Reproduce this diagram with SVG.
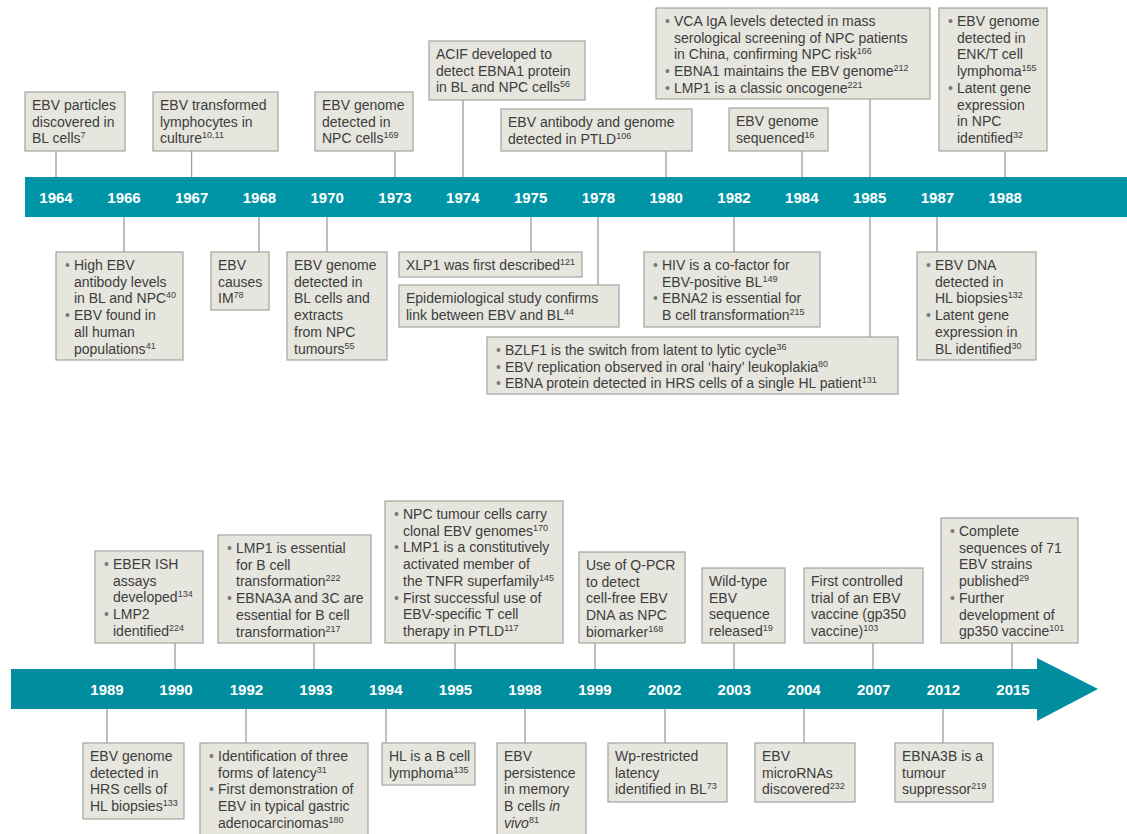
<svg xmlns="http://www.w3.org/2000/svg" width="1127" height="834" viewBox="0 0 1127 834">
<style>
.box{fill:#e6e5de;stroke:#a3a39f;stroke-width:1.2}
.t{font-family:"Liberation Sans",Arial,sans-serif;font-size:14px;fill:#3d3d3d}
.s{font-size:9px}
.b{fill:#7a7a7a}
.i{font-style:italic}
.yr{font-family:"Liberation Sans",Arial,sans-serif;font-weight:bold;font-size:15px;fill:#fff;text-anchor:middle}
.c line{stroke:#9b9b9b;stroke-width:1.3}
</style>
<rect width="1127" height="834" fill="#fff"/>
<g id="band-top">
<rect x="25" y="177" width="1102" height="40" fill="#0095a6"/>
<text class="yr" x="56" y="202.5">1964</text>
<text class="yr" x="124" y="202.5">1966</text>
<text class="yr" x="191.6" y="202.5">1967</text>
<text class="yr" x="259.4" y="202.5">1968</text>
<text class="yr" x="327.2" y="202.5">1970</text>
<text class="yr" x="395" y="202.5">1973</text>
<text class="yr" x="462.8" y="202.5">1974</text>
<text class="yr" x="530.6" y="202.5">1975</text>
<text class="yr" x="598.4" y="202.5">1978</text>
<text class="yr" x="666.2" y="202.5">1980</text>
<text class="yr" x="734" y="202.5">1982</text>
<text class="yr" x="801.8" y="202.5">1984</text>
<text class="yr" x="869.6" y="202.5">1985</text>
<text class="yr" x="937.4" y="202.5">1987</text>
<text class="yr" x="1005.2" y="202.5">1988</text>
</g>
<g id="band-bottom">
<path d="M11,669 H1037 V658 L1098,689 L1037,721 V709 H11 Z" fill="#008e9e"/>
<text class="yr" x="107" y="695">1989</text>
<text class="yr" x="176" y="695">1990</text>
<text class="yr" x="246.4" y="695">1992</text>
<text class="yr" x="316" y="695">1993</text>
<text class="yr" x="385.8" y="695">1994</text>
<text class="yr" x="455.5" y="695">1995</text>
<text class="yr" x="525" y="695">1998</text>
<text class="yr" x="594.9" y="695">1999</text>
<text class="yr" x="664.6" y="695">2002</text>
<text class="yr" x="734.3" y="695">2003</text>
<text class="yr" x="804" y="695">2004</text>
<text class="yr" x="873.7" y="695">2007</text>
<text class="yr" x="943.4" y="695">2012</text>
<text class="yr" x="1013" y="695">2015</text>
</g>
<g id="connectors" class="c">
<line x1="56" y1="151" x2="56" y2="177"/>
<line x1="191.6" y1="151" x2="191.6" y2="177"/>
<line x1="395" y1="151" x2="395" y2="177"/>
<line x1="463" y1="100" x2="463" y2="177"/>
<line x1="666" y1="151" x2="666" y2="177"/>
<line x1="870" y1="99" x2="870" y2="177"/>
<line x1="802" y1="151" x2="802" y2="177"/>
<line x1="1005" y1="151" x2="1005" y2="177"/>
<line x1="124" y1="217" x2="124" y2="252"/>
<line x1="259" y1="217" x2="259" y2="252"/>
<line x1="327" y1="217" x2="327" y2="252"/>
<line x1="531" y1="217" x2="531" y2="252"/>
<line x1="598" y1="217" x2="598" y2="285"/>
<line x1="734" y1="217" x2="734" y2="252"/>
<line x1="870" y1="217" x2="870" y2="337"/>
<line x1="937" y1="217" x2="937" y2="252"/>
<line x1="175" y1="643" x2="175" y2="669"/>
<line x1="314" y1="643" x2="314" y2="669"/>
<line x1="455" y1="643" x2="455" y2="669"/>
<line x1="595" y1="643" x2="595" y2="669"/>
<line x1="734" y1="643" x2="734" y2="669"/>
<line x1="873" y1="643" x2="873" y2="669"/>
<line x1="1012" y1="643" x2="1012" y2="669"/>
<line x1="107" y1="709" x2="107" y2="743"/>
<line x1="246" y1="709" x2="246" y2="743"/>
<line x1="386" y1="709" x2="386" y2="743"/>
<line x1="525" y1="709" x2="525" y2="743"/>
<line x1="665" y1="709" x2="665" y2="743"/>
<line x1="804" y1="709" x2="804" y2="743"/>
<line x1="943" y1="709" x2="943" y2="743"/>
</g>
<g id="n1964"><rect class="box" x="25" y="92" width="100" height="59"/>
<text class="t"><tspan x="32" y="110">EBV particles</tspan><tspan x="32" y="126.7">discovered in</tspan><tspan x="32" y="143.4">BL cells</tspan><tspan class="s" dy="-5">7</tspan></text></g>
<g id="n1967"><rect class="box" x="153" y="92" width="125" height="59"/>
<text class="t"><tspan x="160" y="110">EBV transformed</tspan><tspan x="160" y="126.7">lymphocytes in</tspan><tspan x="160" y="143.4">culture</tspan><tspan class="s" dy="-5">10,11</tspan></text></g>
<g id="n1973"><rect class="box" x="315" y="92" width="98" height="59"/>
<text class="t"><tspan x="322" y="110">EBV genome</tspan><tspan x="322" y="126.7">detected in</tspan><tspan x="322" y="143.4">NPC cells</tspan><tspan class="s" dy="-5">169</tspan></text></g>
<g id="n1974"><rect class="box" x="429" y="41" width="156" height="59"/>
<text class="t"><tspan x="436" y="59">ACIF developed to</tspan><tspan x="436" y="75.7">detect EBNA1 protein</tspan><tspan x="436" y="92.4">in BL and NPC cells</tspan><tspan class="s" dy="-5">56</tspan></text></g>
<g id="n1980"><rect class="box" x="501" y="109" width="191" height="42"/>
<text class="t"><tspan x="508" y="127">EBV antibody and genome</tspan><tspan x="508" y="143.7">detected in PTLD</tspan><tspan class="s" dy="-5">106</tspan></text></g>
<g id="n1985a"><rect class="box" x="656" y="8" width="274" height="91"/>
<text class="t"><tspan class="b" x="665" y="26">•</tspan><tspan x="674" y="26">VCA IgA levels detected in mass</tspan><tspan x="674" y="42.7">serological screening of NPC patients</tspan><tspan x="674" y="59.4">in China, confirming NPC risk</tspan><tspan class="s" dy="-5">166</tspan><tspan class="b" x="665" y="76.1">•</tspan><tspan x="674" y="76.1">EBNA1 maintains the EBV genome</tspan><tspan class="s" dy="-5">212</tspan><tspan class="b" x="665" y="92.8">•</tspan><tspan x="674" y="92.8">LMP1 is a classic oncogene</tspan><tspan class="s" dy="-5">221</tspan></text></g>
<g id="n1984"><rect class="box" x="729" y="108" width="99" height="43"/>
<text class="t"><tspan x="736" y="126">EBV genome</tspan><tspan x="736" y="142.7">sequenced</tspan><tspan class="s" dy="-5">16</tspan></text></g>
<g id="n1988"><rect class="box" x="939" y="8" width="108" height="143"/>
<text class="t"><tspan class="b" x="948" y="26">•</tspan><tspan x="957" y="26">EBV genome</tspan><tspan x="957" y="42.7">detected in</tspan><tspan x="957" y="59.4">ENK/T cell</tspan><tspan x="957" y="76.1">lymphoma</tspan><tspan class="s" dy="-5">155</tspan><tspan class="b" x="948" y="92.8">•</tspan><tspan x="957" y="92.8">Latent gene</tspan><tspan x="957" y="109.5">expression</tspan><tspan x="957" y="126.2">in NPC</tspan><tspan x="957" y="142.9">identified</tspan><tspan class="s" dy="-5">32</tspan></text></g>
<g id="n1966"><rect class="box" x="56" y="252" width="127" height="108"/>
<text class="t"><tspan class="b" x="65" y="270">•</tspan><tspan x="74" y="270">High EBV</tspan><tspan x="74" y="286.7">antibody levels</tspan><tspan x="74" y="303.4">in BL and NPC</tspan><tspan class="s" dy="-5">40</tspan><tspan class="b" x="65" y="320.1">•</tspan><tspan x="74" y="320.1">EBV found in</tspan><tspan x="74" y="336.8">all human</tspan><tspan x="74" y="353.5">populations</tspan><tspan class="s" dy="-5">41</tspan></text></g>
<g id="n1968"><rect class="box" x="211" y="252" width="58" height="58"/>
<text class="t"><tspan x="218" y="270">EBV</tspan><tspan x="218" y="286.7">causes</tspan><tspan x="218" y="303.4">IM</tspan><tspan class="s" dy="-5">78</tspan></text></g>
<g id="n1970"><rect class="box" x="287" y="252" width="100" height="108"/>
<text class="t"><tspan x="294" y="270">EBV genome</tspan><tspan x="294" y="286.7">detected in</tspan><tspan x="294" y="303.4">BL cells and</tspan><tspan x="294" y="320.1">extracts</tspan><tspan x="294" y="336.8">from NPC</tspan><tspan x="294" y="353.5">tumours</tspan><tspan class="s" dy="-5">55</tspan></text></g>
<g id="n1975"><rect class="box" x="399" y="252" width="183" height="25"/>
<text class="t"><tspan x="406" y="269.5">XLP1 was first described</tspan><tspan class="s" dy="-5">121</tspan></text></g>
<g id="n1978"><rect class="box" x="399" y="285" width="220" height="42"/>
<text class="t"><tspan x="406" y="303">Epidemiological study confirms</tspan><tspan x="406" y="319.7">link between EBV and BL</tspan><tspan class="s" dy="-5">44</tspan></text></g>
<g id="n1982"><rect class="box" x="644" y="252" width="176" height="75"/>
<text class="t"><tspan class="b" x="653" y="270">•</tspan><tspan x="662" y="270">HIV is a co-factor for</tspan><tspan x="662" y="286.7">EBV-positive BL</tspan><tspan class="s" dy="-5">149</tspan><tspan class="b" x="653" y="303.4">•</tspan><tspan x="662" y="303.4">EBNA2 is essential for</tspan><tspan x="662" y="320.1">B cell transformation</tspan><tspan class="s" dy="-5">215</tspan></text></g>
<g id="n1985b"><rect class="box" x="487" y="337" width="411" height="57"/>
<text class="t"><tspan class="b" x="496" y="355">•</tspan><tspan x="505" y="355">BZLF1 is the switch from latent to lytic cycle</tspan><tspan class="s" dy="-5">36</tspan><tspan class="b" x="496" y="371.7">•</tspan><tspan x="505" y="371.7">EBV replication observed in oral ‘hairy’ leukoplakia</tspan><tspan class="s" dy="-5">80</tspan><tspan class="b" x="496" y="388.4">•</tspan><tspan x="505" y="388.4">EBNA protein detected in HRS cells of a single HL patient</tspan><tspan class="s" dy="-5">131</tspan></text></g>
<g id="n1987"><rect class="box" x="917" y="252" width="119" height="108"/>
<text class="t"><tspan class="b" x="926" y="270">•</tspan><tspan x="935" y="270">EBV DNA</tspan><tspan x="935" y="286.7">detected in</tspan><tspan x="935" y="303.4">HL biopsies</tspan><tspan class="s" dy="-5">132</tspan><tspan class="b" x="926" y="320.1">•</tspan><tspan x="935" y="320.1">Latent gene</tspan><tspan x="935" y="336.8">expression in</tspan><tspan x="935" y="353.5">BL identified</tspan><tspan class="s" dy="-5">30</tspan></text></g>
<g id="n1990"><rect class="box" x="95" y="551" width="108" height="92"/>
<text class="t"><tspan class="b" x="104" y="569">•</tspan><tspan x="113" y="569">EBER ISH</tspan><tspan x="113" y="585.7">assays</tspan><tspan x="113" y="602.4">developed</tspan><tspan class="s" dy="-5">134</tspan><tspan class="b" x="104" y="619.1">•</tspan><tspan x="113" y="619.1">LMP2</tspan><tspan x="113" y="635.8">identified</tspan><tspan class="s" dy="-5">224</tspan></text></g>
<g id="n1993"><rect class="box" x="218" y="535" width="153" height="108"/>
<text class="t"><tspan class="b" x="227" y="553">•</tspan><tspan x="236" y="553">LMP1 is essential</tspan><tspan x="236" y="569.7">for B cell</tspan><tspan x="236" y="586.4">transformation</tspan><tspan class="s" dy="-5">222</tspan><tspan class="b" x="227" y="603.1">•</tspan><tspan x="236" y="603.1">EBNA3A and 3C are</tspan><tspan x="236" y="619.8">essential for B cell</tspan><tspan x="236" y="636.5">transformation</tspan><tspan class="s" dy="-5">217</tspan></text></g>
<g id="n1995"><rect class="box" x="385" y="501" width="178" height="142"/>
<text class="t"><tspan class="b" x="394" y="519">•</tspan><tspan x="403" y="519">NPC tumour cells carry</tspan><tspan x="403" y="535.7">clonal EBV genomes</tspan><tspan class="s" dy="-5">170</tspan><tspan class="b" x="394" y="552.4">•</tspan><tspan x="403" y="552.4">LMP1 is a constitutively</tspan><tspan x="403" y="569.1">activated member of</tspan><tspan x="403" y="585.8">the TNFR superfamily</tspan><tspan class="s" dy="-5">145</tspan><tspan class="b" x="394" y="602.5">•</tspan><tspan x="403" y="602.5">First successful use of</tspan><tspan x="403" y="619.2">EBV-specific T cell</tspan><tspan x="403" y="635.9">therapy in PTLD</tspan><tspan class="s" dy="-5">117</tspan></text></g>
<g id="n1999"><rect class="box" x="579" y="552" width="106" height="91"/>
<text class="t"><tspan x="586" y="570">Use of Q-PCR</tspan><tspan x="586" y="586.7">to detect</tspan><tspan x="586" y="603.4">cell-free EBV</tspan><tspan x="586" y="620.1">DNA as NPC</tspan><tspan x="586" y="636.8">biomarker</tspan><tspan class="s" dy="-5">168</tspan></text></g>
<g id="n2003"><rect class="box" x="702" y="568" width="83" height="75"/>
<text class="t"><tspan x="709" y="586">Wild-type</tspan><tspan x="709" y="602.7">EBV</tspan><tspan x="709" y="619.4">sequence</tspan><tspan x="709" y="636.1">released</tspan><tspan class="s" dy="-5">19</tspan></text></g>
<g id="n2007"><rect class="box" x="804" y="568" width="119" height="75"/>
<text class="t"><tspan x="811" y="586">First controlled</tspan><tspan x="811" y="602.7">trial of an EBV</tspan><tspan x="811" y="619.4">vaccine (gp350</tspan><tspan x="811" y="636.1">vaccine)</tspan><tspan class="s" dy="-5">103</tspan></text></g>
<g id="n2015"><rect class="box" x="941" y="518" width="137" height="125"/>
<text class="t"><tspan class="b" x="950" y="536">•</tspan><tspan x="959" y="536">Complete</tspan><tspan x="959" y="552.7">sequences of 71</tspan><tspan x="959" y="569.4">EBV strains</tspan><tspan x="959" y="586.1">published</tspan><tspan class="s" dy="-5">29</tspan><tspan class="b" x="950" y="602.8">•</tspan><tspan x="959" y="602.8">Further</tspan><tspan x="959" y="619.5">development of</tspan><tspan x="959" y="636.2">gp350 vaccine</tspan><tspan class="s" dy="-5">101</tspan></text></g>
<g id="n1989"><rect class="box" x="83" y="743" width="101" height="76"/>
<text class="t"><tspan x="90" y="761">EBV genome</tspan><tspan x="90" y="777.7">detected in</tspan><tspan x="90" y="794.4">HRS cells of</tspan><tspan x="90" y="811.1">HL biopsies</tspan><tspan class="s" dy="-5">133</tspan></text></g>
<g id="n1992"><rect class="box" x="200" y="743" width="168" height="93"/>
<text class="t"><tspan class="b" x="209" y="761">•</tspan><tspan x="218" y="761">Identification of three</tspan><tspan x="218" y="777.7">forms of latency</tspan><tspan class="s" dy="-5">31</tspan><tspan class="b" x="209" y="794.4">•</tspan><tspan x="218" y="794.4">First demonstration of</tspan><tspan x="218" y="811.1">EBV in typical gastric</tspan><tspan x="218" y="827.8">adenocarcinomas</tspan><tspan class="s" dy="-5">180</tspan></text></g>
<g id="n1994"><rect class="box" x="382" y="743" width="93" height="42"/>
<text class="t"><tspan x="389" y="761">HL is a B cell</tspan><tspan x="389" y="777.7">lymphoma</tspan><tspan class="s" dy="-5">135</tspan></text></g>
<g id="n1998"><rect class="box" x="497" y="743" width="89" height="93"/>
<text class="t"><tspan x="504" y="761">EBV</tspan><tspan x="504" y="777.7">persistence</tspan><tspan x="504" y="794.4">in memory</tspan><tspan x="504" y="811.1">B cells </tspan><tspan class="i">in</tspan><tspan class="i" x="504" y="827.8">vivo</tspan><tspan class="s" dy="-5">81</tspan></text></g>
<g id="n2002"><rect class="box" x="608" y="743" width="119" height="59"/>
<text class="t"><tspan x="615" y="761">Wp-restricted</tspan><tspan x="615" y="777.7">latency</tspan><tspan x="615" y="794.4">identified in BL</tspan><tspan class="s" dy="-5">73</tspan></text></g>
<g id="n2004"><rect class="box" x="755" y="743" width="100" height="59"/>
<text class="t"><tspan x="762" y="761">EBV</tspan><tspan x="762" y="777.7">microRNAs</tspan><tspan x="762" y="794.4">discovered</tspan><tspan class="s" dy="-5">232</tspan></text></g>
<g id="n2012"><rect class="box" x="895" y="743" width="98" height="59"/>
<text class="t"><tspan x="902" y="761">EBNA3B is a</tspan><tspan x="902" y="777.7">tumour</tspan><tspan x="902" y="794.4">suppressor</tspan><tspan class="s" dy="-5">219</tspan></text></g>
</svg>
